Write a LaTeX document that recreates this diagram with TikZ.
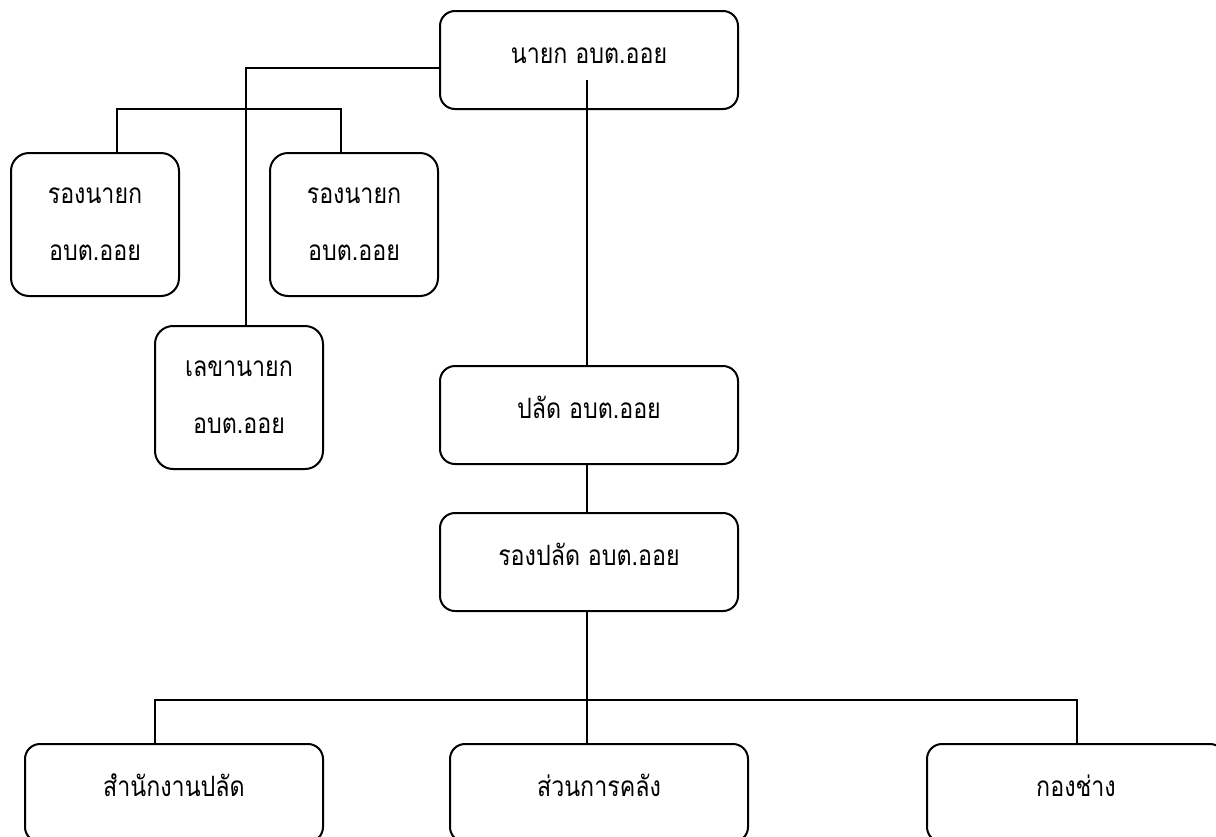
\documentclass[tikz,border=0pt]{standalone}
\usepackage{fontspec}
\newfontfamily\thaifont[Script=Thai, FakeStretch=0.83]{Loma}
\usetikzlibrary{positioning, calc}

\begin{document}
\begin{tikzpicture}[x=1pt, y=-1pt, line width=2pt,
box/.style={draw, rounded corners=15pt, inner xsep=0pt, inner ysep=0pt, minimum width=298pt, text height=52pt, text depth=46pt, anchor=north, font=\thaifont\fontsize{28}{34}\selectfont},
twobox/.style={draw, rounded corners=18pt, minimum width=168pt, minimum height=143pt, anchor=north, align=center, font=\thaifont\fontsize{28}{57}\selectfont}]
\useasboundingbox (0,0) rectangle (1216,836);
\clip (0,0) rectangle (1216,836);
\node [box] (nayok) at (589,10) {นายก อบต.ออย};
\node [twobox] (rongA) at (95,152) {รองนายก\\อบต.ออย};
\node [twobox] (rongB) at (354,152) {รองนายก\\อบต.ออย};
\node [twobox] (lekha) at (239,325) {เลขานายก\\อบต.ออย};
\node [box] (palad) at (589,365) {ปลัด อบต.ออย};
\node [box] (rongpalad) at (589,512) {รองปลัด อบต.ออย};
\node [box] (samnak) at (174,743) {สำนักงานปลัด};
\node [box] (klang) at (599,743) {ส่วนการคลัง};
\node [box] (chang) at (1076,743) {กองช่าง};
\coordinate (bus) at (587,700);
% lines
\draw ([yshift=-8pt]nayok.west) -| ([xshift=7pt]lekha.north);
\draw ([xshift=22pt]rongA.north) -- ++(0,-43) -| ([xshift=-13pt]rongB.north);
\draw ([xshift=-2pt, yshift=30pt]nayok.south) -- ([xshift=-2pt]palad.north);
\draw ([xshift=-2pt]palad.south) -- ([xshift=-2pt]rongpalad.north);
\draw ([xshift=-2pt]rongpalad.south) -- (bus) -- (bus |- klang.north);
\draw ([xshift=-19pt]samnak.north) |- (bus) -| ([xshift=1pt]chang.north);
\end{tikzpicture}
\end{document}
